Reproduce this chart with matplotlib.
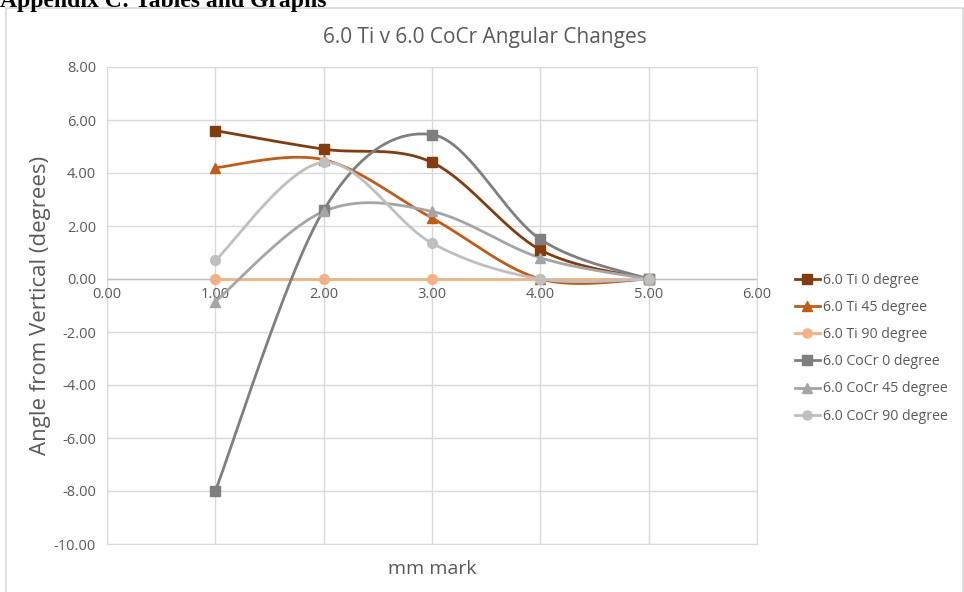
import numpy as np
import matplotlib
matplotlib.use("Agg")
import matplotlib.pyplot as plt
from matplotlib.patches import Rectangle
from matplotlib.lines import Line2D

plt.rcParams['font.family'] = ['Open Sans', 'DejaVu Sans']

# mm mark positions and angle readings
mm = [1, 2, 3, 4, 5]
ti_0 = [5.6, 4.9, 4.4, 1.1, 0.0]
ti_45 = [4.2, 4.5, 2.3, 0.0, 0.0]
ti_90 = [0.0, 0.0, 0.0, 0.0, 0.0]
cocr_0 = [-8.0, 2.6, 5.45, 1.5, 0.0]
cocr_45 = [-0.85, 2.55, 2.55, 0.8, 0.0]
cocr_90 = [0.7, 4.4, 1.35, 0.0, 0.0]

labels = ['6.0 Ti 0 degree', '6.0 Ti 45 degree', '6.0 Ti 90 degree',
          '6.0 CoCr 0 degree', '6.0 CoCr 45 degree', '6.0 CoCr 90 degree']
series = [ti_0, ti_45, ti_90, cocr_0, cocr_45, cocr_90]
colors = ['#843C0C', '#C55A11', '#F4B183', '#7F7F7F', '#A5A5A5', '#BFBFBF']
markers = ['s', '^', 'o', 's', '^', 'o']

x_ticks = [0, 1, 2, 3, 4, 5, 6]
y_ticks = [-10, -8, -6, -4, -2, 0, 2, 4, 6, 8]


def smooth(xs, ys, n=40):
    # bezier smoothing like the spreadsheet "smoothed line" option
    p = np.column_stack([xs, ys]).astype(float)
    pts = np.vstack([p[0], p, p[-1]])
    out = []
    t = np.linspace(0, 1, n)[:, None]
    for i in range(1, len(pts) - 2):
        p0, p1, p2, p3 = pts[i - 1], pts[i], pts[i + 1], pts[i + 2]
        c1 = p1 + (p2 - p0) / 6
        c2 = p2 - (p3 - p1) / 6
        seg = ((1 - t) ** 3) * p1 + 3 * ((1 - t) ** 2) * t * c1 \
            + 3 * (1 - t) * t ** 2 * c2 + t ** 3 * p2
        out.append(seg if i == 1 else seg[1:])
    c = np.vstack(out)
    return c[:, 0], c[:, 1]


fig = plt.figure(figsize=(9.64, 5.92), dpi=100)
fig.patch.set_facecolor('white')

# chart frame
fig.patches.append(Rectangle((6 / 964, -0.05), 957 / 964, (584 / 592) + 0.05,
                             transform=fig.transFigure, fill=False,
                             edgecolor='#D9D9D9', linewidth=1.2, zorder=0))
fig.text(0.0, 1 - 7 / 592, 'Appendix C: Tables and Graphs',
         fontfamily='Liberation Serif', fontweight='bold', fontsize=17,
         ha='left', va='baseline', color='black', zorder=5)

ax = fig.add_axes([107 / 964, 1 - 544 / 592, 650 / 964, 477 / 592])
ax.set_xlim(0, 6)
ax.set_ylim(-10, 8)
ax.set_xticks(x_ticks)
ax.set_yticks(y_ticks)
ax.grid(True, color='#D9D9D9', linewidth=1)
ax.set_axisbelow(True)
for s in ax.spines.values():
    s.set_color('#D9D9D9')
ax.axhline(0, color='#BFBFBF', linewidth=1, zorder=1)

ax.tick_params(length=0, labelsize=10.5, colors='#595959')
ax.set_yticklabels(['%.2f' % v for v in y_ticks])
ax.tick_params(axis='y', pad=8)
ax.set_xticklabels([])
for v in x_ticks:
    ax.text(v, -0.32, '%.2f' % v, ha='center', va='top', fontsize=10.5,
            color='#595959')

for ys, lab, c, m in zip(series, labels, colors, markers):
    sx, sy = smooth(mm, ys)
    ax.plot(sx, sy, color=c, linewidth=2.0, zorder=3)
    ax.plot(mm, ys, linestyle='none', marker=m, markersize=7, color=c,
            zorder=4)

fig.text(485 / 964, 1 - 37 / 592, '6.0 Ti v 6.0 CoCr Angular Changes',
         fontsize=15, color='#595959', ha='center', va='center')
ax.set_xlabel('mm mark', fontsize=14, color='#595959', labelpad=8)
ax.set_ylabel('Angle from Vertical (degrees)', fontsize=16,
              color='#595959', labelpad=2)

handles = [Line2D([0], [0], color=c, marker=m, markersize=6.5, linewidth=2.0)
           for c, m in zip(colors, markers)]
leg = fig.legend(handles, labels, loc='upper left',
                 bbox_to_anchor=(782 / 964, 1 - 260 / 592), frameon=False,
                 fontsize=10.2, handlelength=1.75, handletextpad=0.25,
                 labelspacing=0.86, labelcolor='#595959')

fig.savefig('out.png', dpi=100)
